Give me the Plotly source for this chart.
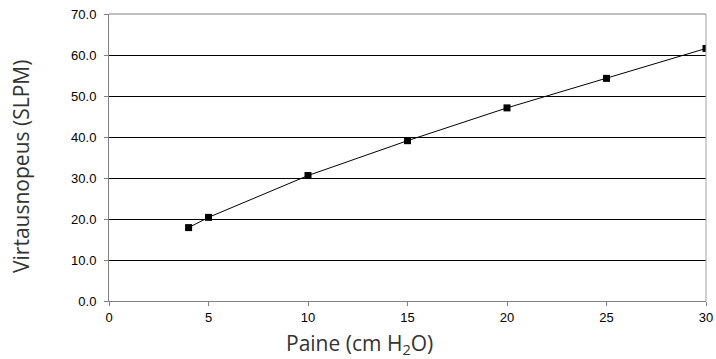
import plotly.graph_objects as go

pressure = [4, 5, 10, 15, 20, 25, 30]
flow = [17.9, 20.4, 30.6, 39.1, 47.1, 54.3, 61.6]
x_ticks = [0, 5, 10, 15, 20, 25, 30]
y_ticks = [0, 10, 20, 30, 40, 50, 60, 70]

fig = go.Figure()
fig.add_trace(go.Scatter(
    x=pressure, y=flow, mode="lines+markers",
    line=dict(color="#000000", width=1),
    marker=dict(symbol="square", size=7, color="#000000"),
    showlegend=False,
))

fig.update_layout(
    width=716, height=359,
    margin=dict(l=109, r=10, t=14, b=58),
    paper_bgcolor="white", plot_bgcolor="white",
    font=dict(family="Liberation Sans", size=13, color="#000000"),
)
fig.update_xaxes(
    range=[0, 30], tickvals=x_ticks, ticktext=[str(v) for v in x_ticks],
    showgrid=False, zeroline=False, automargin=False,
    showline=True, linecolor="#808080", linewidth=1, mirror=False,
    ticks="outside", ticklen=4, tickcolor="#808080",
    ticklabelstandoff=0,
)
fig.update_yaxes(
    range=[0, 70], tickvals=y_ticks, ticktext=[f"{v:.1f}" for v in y_ticks],
    showgrid=True, gridcolor="#000000", gridwidth=1, zeroline=False, automargin=False,
    showline=True, linecolor="#808080", linewidth=1,
    ticks="outside", ticklen=4, tickcolor="#808080",
    ticklabelstandoff=5,
)
# axis titles as positioned annotations
fig.add_annotation(text="Paine (cm H<sub>2</sub>O)", xref="paper", yref="paper",
                   x=0.42, y=0, yshift=-43, xanchor="center", yanchor="middle",
                   showarrow=False, font=dict(family="Open Sans", size=21, color="#333333"))
fig.add_annotation(text="Virtausnopeus (SLPM)", xref="paper", yref="paper",
                   x=0, y=0.467, xshift=-88, xanchor="center", yanchor="middle",
                   textangle=-90, showarrow=False,
                   font=dict(family="Open Sans", size=21, color="#333333"))
# right and top border
fig.add_shape(type="line", xref="paper", yref="paper", x0=1, x1=1, y0=0, y1=1,
              line=dict(color="#a0a0a0", width=1))
fig.add_shape(type="line", xref="paper", yref="paper", x0=0, x1=1, y0=1, y1=1,
              line=dict(color="#808080", width=1))

fig.write_html(
    "out.html",
    config={"displayModeBar": False, "responsive": False},
    post_script="document.body.style.margin='0';document.body.style.overflow='hidden';document.documentElement.style.overflow='hidden';",
)
